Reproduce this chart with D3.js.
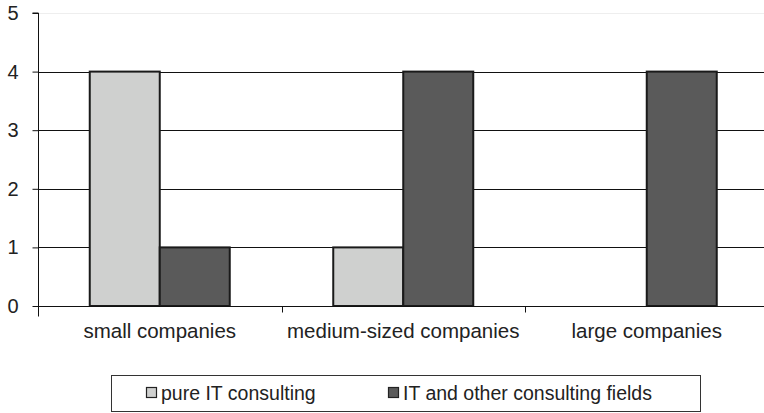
<!DOCTYPE html>
<html>
<head>
<meta charset="utf-8">
<script src="https://cdn.jsdelivr.net/npm/d3@7"></script>
<style>
  html, body { margin: 0; padding: 0; background: #fff; }
  svg { display: block; font-family: "Liberation Sans", Arial, sans-serif; }
</style>
</head>
<body>
<svg id="chart" width="764" height="413"></svg>
<script>
// Company size groups and counts per consulting type
const categories = ["small companies", "medium-sized companies", "large companies"];
const seriesNames = ["pure IT consulting", "IT and other consulting fields"];
const pureIT = [4, 1, 0];
const itAndOther = [1, 4, 4];
const yTicks = [0, 1, 2, 3, 4, 5];
const colors = ["#cfd0cf", "#5a5a5a"];

(function draw() {
  const svg = d3.select("#chart");
  const mLeft = 38, mRight = 768.5, mTop = 13, mBottom = 306;

  const x = d3.scaleBand().domain(categories).range([mLeft, mRight]).paddingInner(0).paddingOuter(0);
  const y = d3.scaleLinear().domain([0, 5]).range([mBottom, mTop]);

  // horizontal gridlines (top one faint)
  svg.append("g").selectAll("line").data(yTicks.filter(t => t > 0)).join("line")
    .attr("x1", mLeft).attr("x2", 764)
    .attr("y1", d => Math.round(y(d)) + 0.5).attr("y2", d => Math.round(y(d)) + 0.5)
    .attr("stroke", d => d === 5 ? "#eeeeee" : "#111")
    .attr("stroke-width", 1);

  // grouped bars
  const rows = categories.map((c, i) => ({ c, vals: [pureIT[i], itAndOther[i]] }));
  const inner = d3.scaleBand().domain([0, 1]).range([0, 140]);
  const g = svg.append("g");
  rows.forEach(r => {
    const cx = x(r.c) + x.bandwidth() / 2 - 70;
    r.vals.forEach((v, k) => {
      if (v <= 0) return;
      g.append("rect")
        .attr("x", cx + inner(k))
        .attr("y", y(v))
        .attr("width", inner.bandwidth())
        .attr("height", y(0) - y(v))
        .attr("fill", colors[k])
        .attr("stroke", "#1a1a1a")
        .attr("stroke-width", 2);
    });
  });

  // y axis
  const yAxis = svg.append("g").attr("transform", `translate(${mLeft + 0.5},0)`)
    .call(d3.axisLeft(y).tickValues(yTicks).tickSize(6).tickPadding(14).tickFormat(d3.format("d")));
  yAxis.select(".domain").attr("d", `M-6,${y(5)}H0V${mBottom}`).attr("stroke", "#111");
  yAxis.selectAll(".tick line").attr("stroke", "#111");
  yAxis.selectAll("text").attr("font-size", 20).attr("fill", "#222")
    .attr("font-family", '"Liberation Sans", Arial, sans-serif');

  // x axis with category separators
  const xAxis = svg.append("g").attr("transform", `translate(0,${mBottom + 0.5})`);
  xAxis.append("line").attr("x1", mLeft).attr("x2", 764).attr("stroke", "#111");
  const seps = categories.map(c => x(c));
  xAxis.selectAll(".sep").data(seps).join("line").attr("class", "sep")
    .attr("x1", d => Math.round(d) + 0.5).attr("x2", d => Math.round(d) + 0.5)
    .attr("y1", 0).attr("y2", d => d === mLeft ? 10 : 6).attr("stroke", "#111");
  xAxis.selectAll("text").data(categories).join("text")
    .attr("x", d => x(d) + x.bandwidth() / 2)
    .attr("y", 31)
    .attr("text-anchor", "middle")
    .attr("font-size", 20.5)
    .attr("fill", "#222")
    .text(d => d);

  // legend
  const lg = svg.append("g");
  lg.append("rect").attr("x", 111.5).attr("y", 375.5).attr("width", 589).attr("height", 36)
    .attr("fill", "#fff").attr("stroke", "#333").attr("stroke-width", 1);
  const legendX = [146, 388];
  seriesNames.forEach((s, i) => {
    lg.append("rect").attr("x", legendX[i] + 0.5).attr("y", 387.5).attr("width", 10).attr("height", 10)
      .attr("fill", colors[i]).attr("stroke", "#222").attr("stroke-width", 1.2);
    lg.append("text").attr("x", legendX[i] + 15).attr("y", 400).attr("font-size", 19.5).attr("fill", "#222").text(s);
  });
})();
</script>
</body>
</html>
